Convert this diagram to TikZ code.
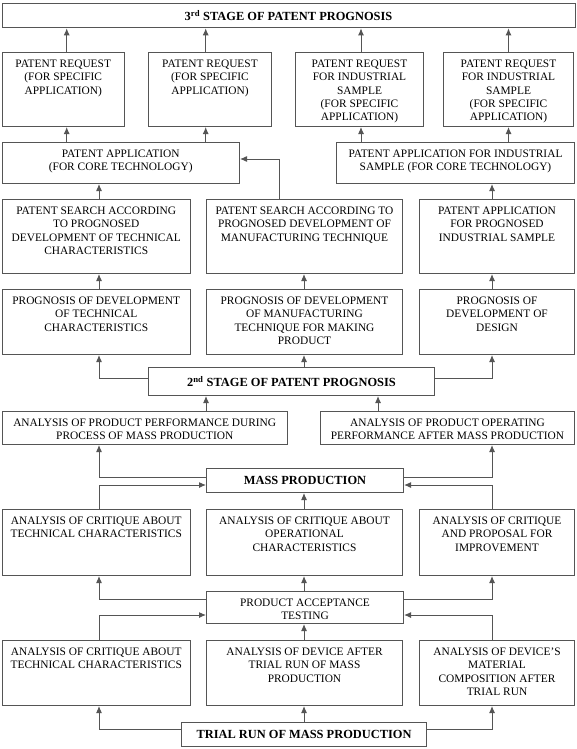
\documentclass[tikz,border=0pt]{standalone}
\usepackage{fontspec}
\setmainfont{Liberation Serif}
\usetikzlibrary{arrows.meta}
\definecolor{ln}{HTML}{555555}
\tikzset{
  box/.style={draw=ln, line width=1pt, inner sep=0pt, fill=white, font=\fontsize{11.4}{13.3}\selectfont},
  ttl/.style={draw=ln, line width=1pt, inner sep=0pt, fill=white, anchor=north west, font=\fontsize{12.4}{14}\selectfont\bfseries},
  arr/.style={draw=ln, line width=1pt, -{Latex[length=7pt,width=6pt]}},
}
\newcommand\bx[6]{%
  \node[box, anchor=north west] (#1) at (#2,#3)
  {\parbox[t][\dimexpr #5pt-#3pt\relax][t]{\dimexpr #4pt-#2pt\relax}{\centering\rule{0pt}{15pt}#6\par}};
}
\begin{document}
\begin{tikzpicture}[x=1pt,y=-1pt]
\fill[white] (0,0) rectangle (576,749);
\useasboundingbox (0,0) rectangle (576,749);

\node[ttl, minimum width=573pt, minimum height=24.3pt] (top) at (1.5,3) {3\textsuperscript{rd} STAGE OF PATENT PROGNOSIS};

\bx{req1}{1.5}{52}{124}{126}{PATENT REQUEST\\(FOR SPECIFIC\\APPLICATION)}
\bx{req2}{148}{52}{271}{126}{PATENT REQUEST\\(FOR SPECIFIC\\APPLICATION)}
\bx{req3}{295}{52}{423}{126}{PATENT REQUEST\\FOR INDUSTRIAL\\SAMPLE\\(FOR SPECIFIC\\APPLICATION)}
\bx{req4}{443}{52}{573}{126}{PATENT REQUEST\\FOR INDUSTRIAL\\SAMPLE\\(FOR SPECIFIC\\APPLICATION)}

\bx{appL}{1.5}{142}{239}{183}{PATENT APPLICATION\\(FOR CORE TECHNOLOGY)}
\bx{appR}{336}{142}{574}{183}{PATENT APPLICATION FOR INDUSTRIAL\\SAMPLE (FOR CORE TECHNOLOGY)}

\bx{s1}{1.5}{199}{190}{273}{PATENT SEARCH ACCORDING\\TO PROGNOSED\\DEVELOPMENT OF TECHNICAL\\CHARACTERISTICS}
\bx{s2}{206}{199}{402}{273}{PATENT SEARCH ACCORDING TO\\PROGNOSED DEVELOPMENT OF\\MANUFACTURING TECHNIQUE}
\bx{s3}{419}{199}{574}{273}{PATENT APPLICATION\\FOR PROGNOSED\\INDUSTRIAL SAMPLE}

\bx{p1}{1.5}{289}{190}{354}{PROGNOSIS OF DEVELOPMENT\\OF TECHNICAL\\CHARACTERISTICS}
\bx{p2}{206}{289}{402}{354}{PROGNOSIS OF DEVELOPMENT\\OF MANUFACTURING\\TECHNIQUE FOR MAKING\\PRODUCT}
\bx{p3}{419}{289}{574}{354}{PROGNOSIS OF\\DEVELOPMENT OF\\DESIGN}

\node[ttl, minimum width=286pt, minimum height=28pt] (st2) at (148,367) {2\textsuperscript{nd} STAGE OF PATENT PROGNOSIS};

\bx{perf}{1.5}{411}{287}{444}{ANALYSIS OF PRODUCT PERFORMANCE DURING\\PROCESS OF MASS PRODUCTION}
\bx{oper}{320}{411}{574}{444}{ANALYSIS OF PRODUCT OPERATING\\PERFORMANCE AFTER MASS PRODUCTION}

\node[ttl, minimum width=197pt, minimum height=24pt] (mp) at (206,468) {MASS PRODUCTION};

\bx{k1}{1.5}{509}{190}{575}{ANALYSIS OF CRITIQUE ABOUT\\TECHNICAL CHARACTERISTICS}
\bx{k2}{206}{509}{402}{575}{ANALYSIS OF CRITIQUE ABOUT\\OPERATIONAL\\CHARACTERISTICS}
\bx{k3}{419}{509}{574}{575}{ANALYSIS OF CRITIQUE\\AND PROPOSAL FOR\\IMPROVEMENT}

\bx{pa}{206}{591}{403}{623}{PRODUCT ACCEPTANCE\\TESTING}

\bx{d1}{1.5}{640}{190}{705}{ANALYSIS OF CRITIQUE ABOUT\\TECHNICAL CHARACTERISTICS}
\bx{d2}{206}{640}{402}{705}{ANALYSIS OF DEVICE AFTER\\TRIAL RUN OF MASS\\PRODUCTION}
\bx{d3}{419}{640}{574}{705}{ANALYSIS OF DEVICE’S\\MATERIAL\\COMPOSITION AFTER\\TRIAL RUN}

\node[ttl, minimum width=245pt, minimum height=24pt] (tr) at (181,722) {TRIAL RUN OF MASS PRODUCTION};

% column and row guides
\coordinate (x1) at (66.7,0);
\coordinate (x2) at (205.7,0);
\coordinate (x3) at (361,0);
\coordinate (x4) at (508.5,0);
\coordinate (xL) at (99,0);
\coordinate (xM) at (304,0);
\coordinate (xR) at (492,0);
\coordinate (xS) at (279.3,0);
\coordinate (xP) at (206,0);
\coordinate (xO) at (378,0);
\coordinate (yA) at (0,159);
\coordinate (yB) at (0,378);
\coordinate (yC) at (0,477);
\coordinate (yD) at (0,485);
\coordinate (yE) at (0,599);
\coordinate (yF) at (0,615);
\coordinate (yG) at (0,729);

\draw[arr] (req1.north -| x1) -- (top.south -| x1);
\draw[arr] (req2.north -| x2) -- (top.south -| x2);
\draw[arr] (req3.north -| x3) -- (top.south -| x3);
\draw[arr] (req4.north -| x4) -- (top.south -| x4);
\draw[arr] (appL.north -| x1) -- (req1.south -| x1);
\draw[arr] (appL.north -| x2) -- (req2.south -| x2);
\draw[arr] (appR.north -| x3) -- (req3.south -| x3);
\draw[arr] (appR.north -| x4) -- (req4.south -| x4);
\draw[arr] (s1.north -| xL) -- (appL.south -| xL);
\draw[arr] (s2.north -| xS) |- (appL.east |- yA);
\draw[arr] (s3.north -| xR) -- (appR.south -| xR);
\draw[arr] (p1.north -| xL) -- (s1.south -| xL);
\draw[arr] (p2.north -| xM) -- (s2.south -| xM);
\draw[arr] (p3.north -| xR) -- (s3.south -| xR);
\draw[arr] (st2.west |- yB) -| (p1.south -| xL);
\draw[arr] (st2.north -| xM) -- (p2.south -| xM);
\draw[arr] (st2.east |- yB) -| (p3.south -| xR);
\draw[arr] (perf.north -| xP) -- (st2.south -| xP);
\draw[arr] (oper.north -| xO) -- (st2.south -| xO);
\draw[arr] (mp.west |- yC) -| (perf.south -| xL);
\draw[arr] (mp.east |- yC) -| (oper.south -| xR);
\draw[arr] (k1.north -| xL) |- (mp.west |- yD);
\draw[arr] (k2.north -| xM) -- (mp.south -| xM);
\draw[arr] (k3.north -| xR) |- (mp.east |- yD);
\draw[arr] (pa.west |- yE) -| (k1.south -| xL);
\draw[arr] (pa.north -| xM) -- (k2.south -| xM);
\draw[arr] (pa.east |- yE) -| (k3.south -| xR);
\draw[arr] (d1.north -| xL) |- (pa.west |- yF);
\draw[arr] (d2.north -| xM) -- (pa.south -| xM);
\draw[arr] (d3.north -| xR) |- (pa.east |- yF);
\draw[arr] (tr.west |- yG) -| (d1.south -| xL);
\draw[arr] (tr.north -| xM) -- (d2.south -| xM);
\draw[arr] (tr.east |- yG) -| (d3.south -| xR);
\end{tikzpicture}
\end{document}
